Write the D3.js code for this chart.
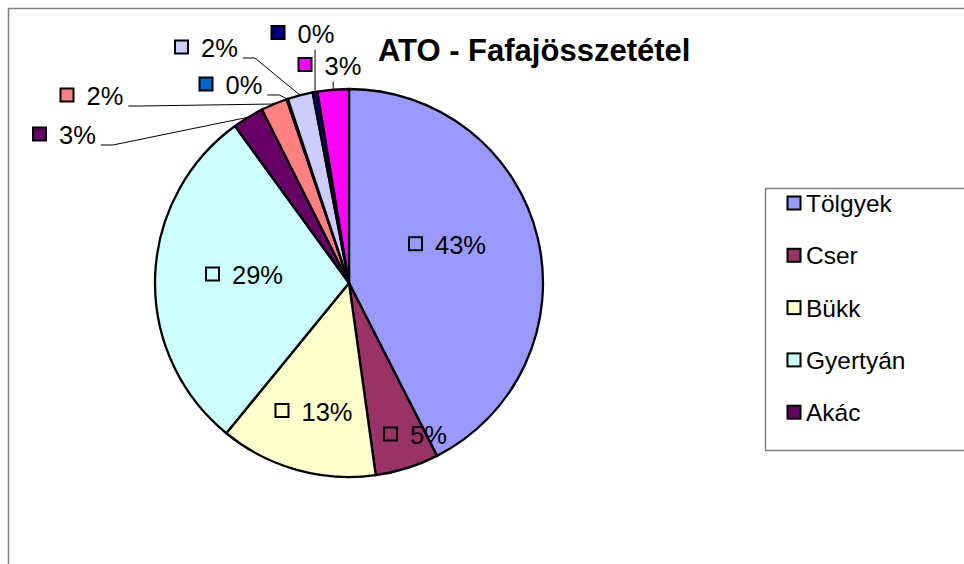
<!DOCTYPE html>
<html>
<head>
<meta charset="utf-8">
<script src="https://cdn.jsdelivr.net/npm/d3@7"></script>
<style>
  body { margin: 0; background: #fff; }
  text { font-family: "Liberation Sans", Arial, sans-serif; fill: #000; }
</style>
</head>
<body>
<svg id="chart"></svg>
<script>
// data
var categories = ["Tölgyek", "Cser", "Bükk", "Gyertyán", "Akác",
  "Egyéb kemény lombos", "Nemes nyár", "Hazai nyár", "Egyéb lágy lombos", "Fenyők"];
var values = [42.5, 5.3, 13.1, 29.1, 2.6, 2.2, 0.1, 2.1, 0.4, 2.6];
var colors = ["#9999FF", "#993366", "#FFFFCC", "#CCFFFF", "#660066",
  "#FF8080", "#0066CC", "#CCCCFF", "#000080", "#FF00FF"];
var title = "ATO - Fafajösszetétel";

// label layout: key square centre relative to pie centre, and leader type
var labelLayout = [
  { dx: 66.5, dy: -39.3, leader: "none" },
  { dx: 41.5, dy: 151, leader: "none" },
  { dx: -67, dy: 127.5, leader: "none" },
  { dx: -136.5, dy: -9, leader: "none" },
  { dx: -309.5, dy: -149, leader: "side" },
  { dx: -282, dy: -188, leader: "side" },
  { dx: -143, dy: -199, leader: "side" },
  { dx: -167.5, dy: -236, leader: "side" },
  { dx: -71, dy: -250.5, leader: "below" },
  { dx: -44, dy: -218.5, leader: "below" }
];

var width = 964, height = 564;
var cx = 349, cy = 283, radius = 194;

var svg = d3.select("#chart")
  .attr("width", width)
  .attr("height", height);

// chart area frame (top and left edges visible)
svg.append("path")
  .attr("d", "M8.5," + height + "V8.5H" + width)
  .attr("fill", "none")
  .attr("stroke", "#808080")
  .attr("stroke-width", 1.5);

var total = d3.sum(values);
var pie = d3.pie().sort(null).value(function(d) { return d; });
var arcs = pie(values);
var arc = d3.arc().innerRadius(0).outerRadius(radius);
var edge = d3.arc().innerRadius(radius).outerRadius(radius);

var g = svg.append("g")
  .attr("transform", "translate(" + cx + "," + cy + ")");

g.selectAll("path.slice")
  .data(arcs)
  .enter().append("path")
  .attr("class", "slice")
  .attr("d", arc)
  .attr("fill", function(d, i) { return colors[i]; })
  .attr("stroke", "#000")
  .attr("stroke-width", 2.3)
  .attr("stroke-linejoin", "round");

// data labels
arcs.forEach(function(d, i) {
  var lp = labelLayout[i];
  var lab = g.append("g");
  lab.append("rect")
    .attr("x", lp.dx - 6.5)
    .attr("y", lp.dy - 6.5)
    .attr("width", 13)
    .attr("height", 13)
    .attr("fill", colors[i])
    .attr("stroke", "#000")
    .attr("stroke-width", 2);
  var t = lab.append("text")
    .attr("x", lp.dx + 19.5)
    .attr("y", lp.dy + 10)
    .attr("font-size", 25.5)
    .text(Math.round(values[i] / total * 100) + "%");

  var p = edge.centroid(d);
  if (lp.leader === "side") {
    var x0 = lp.dx + 19.5 + t.node().getComputedTextLength() + 5;
    var y0 = lp.dy + 11;
    g.append("path")
      .attr("d", "M" + x0 + "," + y0 + "H" + (x0 + 12) + "L" + p[0] + "," + p[1])
      .attr("fill", "none")
      .attr("stroke", "#000")
      .attr("stroke-width", 1);
  } else if (lp.leader === "below") {
    g.append("line")
      .attr("x1", p[0]).attr("y1", lp.dy + 17)
      .attr("x2", p[0]).attr("y2", p[1])
      .attr("stroke", "#000")
      .attr("stroke-width", 1);
  }
});

// title
svg.append("text")
  .attr("x", 378)
  .attr("y", 61)
  .attr("font-size", 31)
  .attr("font-weight", "bold")
  .text(title);

// legend (box is cut off by the chart edge, only first five fit)
var legend = svg.append("g");
legend.append("path")
  .attr("d", "M" + width + ",188.5H765.5V450.5H" + width)
  .attr("fill", "none")
  .attr("stroke", "#808080")
  .attr("stroke-width", 1.5);

var ly = d3.scaleLinear().domain([0, 1]).range([203, 255.3]);
categories.slice(0, 5).forEach(function(name, i) {
  legend.append("rect")
    .attr("x", 787.5)
    .attr("y", ly(i) - 6.5)
    .attr("width", 13)
    .attr("height", 13)
    .attr("fill", colors[i])
    .attr("stroke", "#000")
    .attr("stroke-width", 2);
  legend.append("text")
    .attr("x", 806)
    .attr("y", ly(i) + 9)
    .attr("font-size", 24.5)
    .text(name);
});
</script>
</body>
</html>
